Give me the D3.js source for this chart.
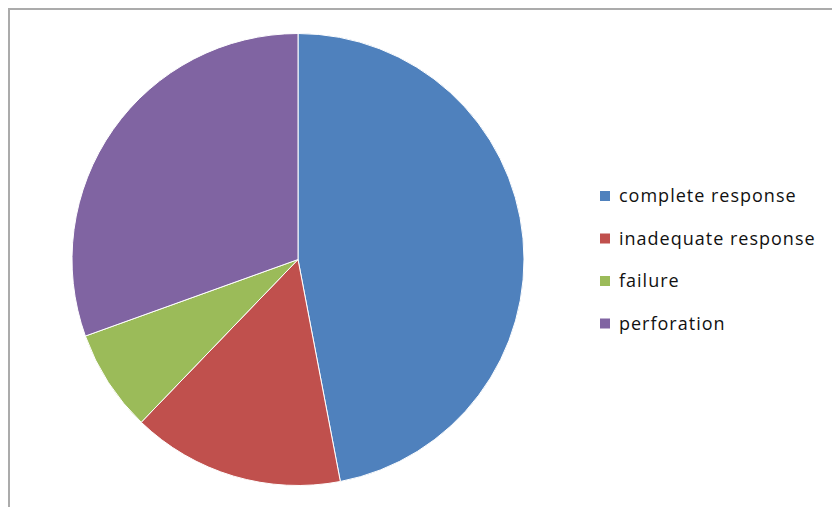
<!DOCTYPE html>
<html>
<head>
<meta charset="utf-8">
<script src="https://cdn.jsdelivr.net/npm/d3@7"></script>
<style>
  body { margin: 0; background: #fff; }
</style>
</head>
<body>
<script>
// slice labels and shares (percent)
const categories = ["complete response", "inadequate response", "failure", "perforation"];
const shares = [47.0, 15.2, 7.3, 30.5];
const colours = ["#4F81BD", "#C0504D", "#9BBB59", "#8064A2"];

function main(){
    const width = 832;
    const height = 507;

    const svg = d3.select("body").append("svg")
        .attr("width", width)
        .attr("height", height)

    //chart area border (only top and left edges show in the picture)
    svg.append("path")
        .attr("d", "M9,507 L9,9 L832,9")
        .attr("fill", "none")
        .attr("stroke", "#ababab")
        .attr("stroke-width", 2)

    const data = categories.map((c, i) => ({name: c, value: shares[i]}));
    const colour = d3.scaleOrdinal().domain(categories).range(colours);

    const pie = d3.pie().value(d => d.value).sort(null);
    const arc = d3.arc().innerRadius(0).outerRadius(226);

    const pie_g = svg.append("g")
        .attr("transform", "translate(298,259.5)");

    pie_g.selectAll("path")
        .data(pie(data))
        .enter().append("path")
        .attr("d", arc)
        .attr("fill", d => colour(d.data.name))
        .attr("stroke", "#fff")
        .attr("stroke-width", 1)

    //legend on the right
    const legend = svg.append("g")
        .attr("transform", "translate(600,196)")
        .attr("font-family", "'Open Sans', sans-serif");

    const rows = legend.selectAll("g")
        .data(categories)
        .enter().append("g")
        .attr("transform", (d, i) => "translate(0," + (i * 42.5) + ")");

    rows.append("rect")
        .attr("x", 0)
        .attr("y", -5)
        .attr("width", 10)
        .attr("height", 10)
        .attr("fill", d => colour(d));

    rows.append("text")
        .attr("x", 19)
        .attr("y", 0)
        .attr("dy", "0.35em")
        .attr("font-size", "18px")
        .attr("letter-spacing", "1px")
        .attr("fill", "#111")
        .text(d => d);
}
main();
</script>
</body>
</html>
